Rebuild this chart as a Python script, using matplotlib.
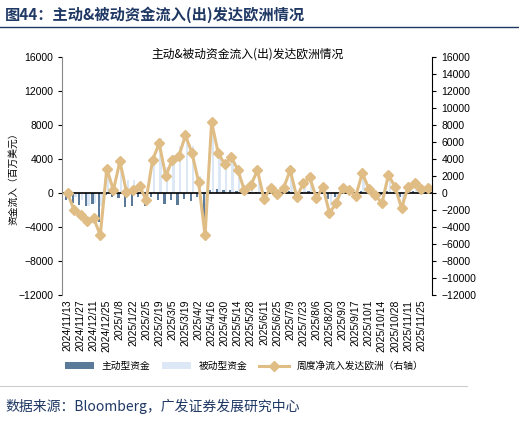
import numpy as np
import matplotlib.pyplot as plt

plt.rcParams['font.family'] = ['Noto Sans CJK SC', 'DejaVu Sans']

labels = ['2024/11/13', '2024/11/27', '2024/12/11', '2024/12/25', '2025/1/8', '2025/1/22',
          '2025/2/5', '2025/2/19', '2025/3/5', '2025/3/19', '2025/4/2', '2025/4/16',
          '2025/4/30', '2025/5/14', '2025/5/28', '2025/6/11', '2025/6/25', '2025/7/9',
          '2025/7/23', '2025/8/6', '2025/8/20', '2025/9/3', '2025/9/17', '2025/10/1',
          '2025/10/14', '2025/10/28', '2025/11/11', '2025/11/25']

active = [-800, -1200, -1400, -1500, -1300, -3500, -300, -500, -600, -1700, -1500, -500,
          -1500, -500, -900, -1300, -800, -1400, -700, -1000, -500, -3500, 300, 500,
          300, 300, 200, 200, 100, 100, -100, 100, -200, 100, 200, -300, 100, 200,
          -200, 100, -700, -500, 100, 100, -100, 200, 100, -100, -300, 200, 100, -500,
          100, 200, 100, 100]
passive = [400, -500, -800, -1500, -1200, -1500, 2800, 600, 3500, 1500, 1500, 1200,
           500, 4000, 6500, 3000, 4500, 5500, 7000, 5500, 2000, -1500, 7500, 4500,
           3200, 3800, 2500, 200, 800, 2500, -500, 500, 100, 500, 2500, -200, 1000,
           1600, -400, 600, -1500, -700, 500, 200, -300, 2000, 400, -200, -900, 1900,
           600, -1300, 600, 900, 400, 500]
net = [-80, -2000, -2600, -3300, -3000, -5000, 2850, 300, 3700, 100, 300, 800,
       -850, 3900, 5800, 1950, 3900, 4300, 6750, 4700, 1300, -5000, 8300, 4700,
       3350, 4200, 2700, 300, 900, 2650, -780, 600, -150, 600, 2650, -470, 1100,
       1800, -660, 700, -2400, -1250, 600, 300, -400, 2300, 500, -270, -1250, 2100,
       700, -1800, 700, 1100, 500, 600]

x = np.arange(len(net))
fig = plt.figure(figsize=(5.19, 4.21), dpi=100)
ax = fig.add_axes([0.12, 0.30, 0.713, 0.565])
ax2 = ax.twinx()

ax.bar(x - 0.2, active, width=0.35, color='#5b7a99', label='主动型资金')
ax.bar(x + 0.2, passive, width=0.35, color='#dce8f5', label='被动型资金')
ax.axhline(0, color='black', lw=1.2)
ax2.plot(x, net, color='#dfbd85', lw=2.2, marker='D', ms=5.5, label='周度净流入发达欧洲（右轴）')

ax.set_ylim(-12000, 16000)
ax.set_yticks(np.arange(-12000, 16001, 4000))
ax2.set_ylim(-12000, 16000)
ax2.set_yticks(np.arange(-12000, 16001, 2000))
ax.set_xlim(-0.8, len(net) - 0.3)
ax.set_xticks(x[::2])
ax.set_xticklabels(labels, rotation=90, fontsize=6.5, family=['Liberation Sans'])
for a in (ax, ax2):
    a.tick_params(labelsize=7.5, length=3)
    for t in a.get_yticklabels():
        t.set_family(['Liberation Sans'])
    for s in ('top', 'bottom'):
        a.spines[s].set_visible(False)
ax.tick_params(axis='x', length=0)
ax.spines['right'].set_visible(False)
ax.spines['left'].set_color('#888888')
ax2.spines['left'].set_visible(False)
ax.set_ylabel('资金流入（百万美元）', fontsize=7, labelpad=0)
ax.set_title('主动&被动资金流入(出)发达欧洲情况', fontsize=8.5, y=0.96)

h1, l1 = ax.get_legend_handles_labels()
h2, l2 = ax2.get_legend_handles_labels()
fig.legend(h1 + h2, l1 + l2, loc='center', bbox_to_anchor=(0.47, 0.13), ncol=3,
           frameon=False, fontsize=7, handlelength=3, columnspacing=1.2)

fig.text(0.01, 0.965, '图44：主动&被动资金流入(出)发达欧洲情况', fontsize=11,
         weight='bold', color='#1f3864', va='center')
fig.add_artist(plt.Line2D([0, 1], [0.935, 0.935], color='#1f3864', lw=1))
fig.add_artist(plt.Line2D([0, 0.9], [0.083, 0.083], color='#cccccc', lw=0.8))
fig.text(0.01, 0.035, '数据来源：Bloomberg，广发证券发展研究中心', fontsize=10,
         color='#1f3864', va='center')

fig.savefig('out.png', dpi=100)
